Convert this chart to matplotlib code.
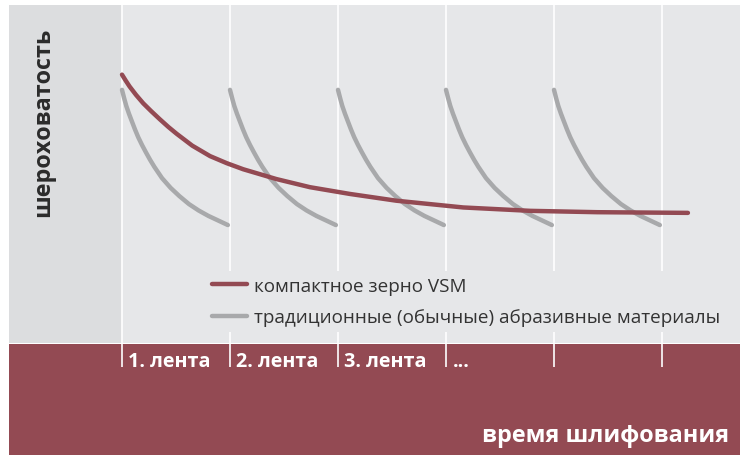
import matplotlib
matplotlib.use('Agg')
import matplotlib.pyplot as plt

plt.rcParams['font.family'] = ['Open Sans', 'DejaVu Sans']

# позиции лент (в единицах "лента")
belts = [0, 1, 2, 3, 4, 5]
belt_labels = ['1. лента', '2. лента', '3. лента', '...']

# компактное зерно VSM
vsm_x = [0.0, 0.035, 0.07, 0.13, 0.197, 0.27, 0.35, 0.43, 0.506, 0.65, 0.815, 0.97,
         1.123, 1.43, 1.74, 2.11, 2.54, 3.16, 3.78, 4.40, 5.24]
vsm_y = [0.794, 0.776, 0.759, 0.734, 0.709, 0.686, 0.662, 0.639, 0.619, 0.584, 0.553,
         0.532, 0.514, 0.485, 0.461, 0.441, 0.421, 0.401, 0.391, 0.387, 0.385]

# традиционные абразивы (один профиль на ленту)
trad_dx = [0.0, 0.02, 0.04, 0.065, 0.09, 0.12, 0.15, 0.185, 0.22, 0.26, 0.3, 0.37,
           0.45, 0.53, 0.62, 0.71, 0.8, 0.9, 0.98]
trad_y = [0.749, 0.724, 0.701, 0.678, 0.657, 0.632, 0.609, 0.586, 0.565, 0.542,
          0.521, 0.488, 0.459, 0.435, 0.411, 0.392, 0.376, 0.361, 0.349]
trad_starts = [0, 1, 2, 3, 4]

c_plot = '#e6e7e9'
c_left = '#dcdddf'
c_red = '#934a53'
c_gray = '#a8a9ab'

fig = plt.figure(figsize=(7.4, 4.56), dpi=100)
W, H = 740, 456

ax = fig.add_axes([9 / W, 112 / H, 731 / W, 338 / H])
ax.set_xlim(-113 / 108, 618 / 108)
ax.set_ylim(0, 1)
ax.set_facecolor(c_plot)
ax.axvspan(-113 / 108, 0, color=c_left, lw=0, zorder=0)
for b in belts:
    ax.axvline(b, color='white', lw=1.2, zorder=1)
for i, s in enumerate(trad_starts):
    ax.plot([s + d for d in trad_dx], trad_y, color=c_gray, lw=3.2,
            solid_capstyle='round', solid_joinstyle='round', zorder=2,
            label='традиционные (обычные) абразивные материалы' if i == 0 else None)
ax.plot(vsm_x, vsm_y, color=c_red, lw=3.2, solid_capstyle='round',
        solid_joinstyle='round', zorder=3, label='компактное зерно VSM')
h, l = ax.get_legend_handles_labels()
leg = ax.legend(h[::-1], l[::-1], loc='upper left', bbox_to_anchor=(0.2566, 0.24),
                frameon=True, facecolor=c_plot, edgecolor='none', framealpha=1,
                fontsize=13.6, handlelength=1.85, handletextpad=0.4, labelspacing=0.7,
                borderpad=0.3, fancybox=False)
for t in leg.get_texts():
    t.set_color('#333333')
ax.text(-0.73, 0.657, 'шероховатость', rotation=90, ha='center', va='center',
        fontsize=16.8, fontweight='bold', color='#2b2b2b')
for s in ['top', 'bottom', 'left', 'right']:
    ax.spines[s].set_visible(False)
ax.set_xticks([])
ax.set_yticks([])

axb = fig.add_axes([9 / W, 0, 731 / W, 111 / H])
axb.set_xlim(-113 / 108, 618 / 108)
axb.set_ylim(0, 111)
axb.set_facecolor(c_red)
axb.vlines(belts, 88, 111, color='white', lw=1.2)
for b, lab in zip(belts, belt_labels):
    axb.text(b + 0.06, 94, lab, ha='left', va='center', fontsize=14.2,
             fontweight='bold', color='white')
axb.text(618 / 108 - 0.1, 20, 'время шлифования', ha='right', va='center',
         fontsize=16.8, fontweight='bold', color='white')
for s in ['top', 'bottom', 'left', 'right']:
    axb.spines[s].set_visible(False)
axb.set_xticks([])
axb.set_yticks([])

fig.savefig('out.png', dpi=100, facecolor='white')
